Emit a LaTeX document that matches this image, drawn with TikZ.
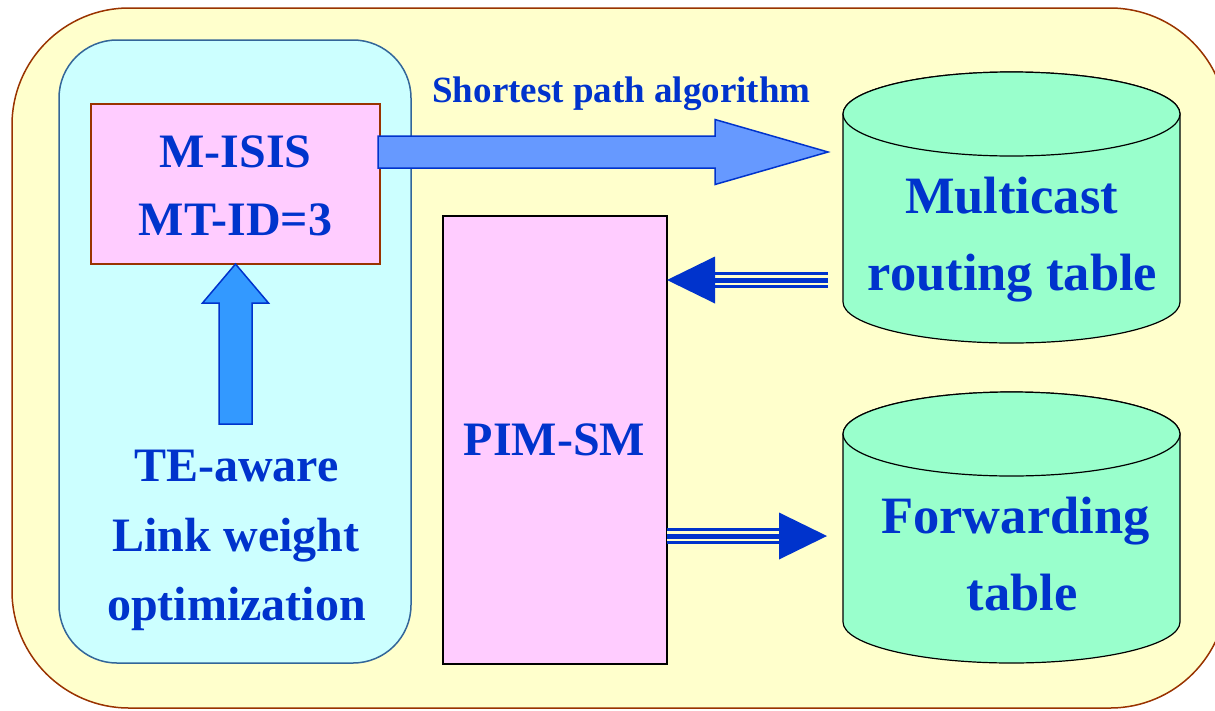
\documentclass[tikz,border=0pt]{standalone}
\usepackage{fontspec}
\setmainfont{Liberation Serif}
\usetikzlibrary{calc}

\definecolor{paneyellow}{HTML}{FFFFCC}
\definecolor{paneedge}{HTML}{993300}
\definecolor{cyanfill}{HTML}{CCFFFF}
\definecolor{cyanedge}{HTML}{336699}
\definecolor{pinkfill}{HTML}{FFCCFF}
\definecolor{tankfill}{HTML}{99FFCC}
\definecolor{inkblue}{HTML}{0033CC}
\definecolor{pathblue}{HTML}{6699FF}
\definecolor{liftblue}{HTML}{3399FF}

\tikzset{
  panel/.style={draw=paneedge, fill=paneyellow, line width=1.5pt,
    rounded corners=117pt, inner sep=0pt, outer sep=0pt},
  tepanel/.style={draw=cyanedge, fill=cyanfill, line width=1.5pt,
    rounded corners=58pt, inner sep=0pt, outer sep=0pt},
  protobox/.style={fill=pinkfill, line width=1.5pt, inner sep=0pt, outer sep=0pt},
  tankframe/.style={inner sep=0pt, outer sep=0pt},
  tank/.style={draw=black, fill=tankfill, line width=1.2pt},
  fatarrow/.style={draw=inkblue, line width=1.5pt, line join=miter},
  tripleline/.style={draw=inkblue, line width=15.5pt,
    postaction={draw=paneyellow, line width=10pt},
    postaction={draw=inkblue, line width=5pt}},
  headfill/.style={fill=inkblue},
  bigtxt/.style={text=inkblue, font=\bfseries\fontsize{48}{56}\selectfont,
    inner sep=0pt, anchor=base},
  tanktxt/.style={text=inkblue, font=\bfseries\fontsize{52.5}{60}\selectfont,
    inner sep=0pt, anchor=base},
  smalltxt/.style={text=inkblue, font=\bfseries\fontsize{37}{44}\selectfont,
    inner sep=0pt, anchor=base},
}

% cylinder drawn inside a named frame node
\newcommand\tankbody[1]{%
  \filldraw[tank] ($(#1.north west)+(0,-42)$) -- ($(#1.south west)+(0,41)$)
    arc[start angle=180, end angle=360, x radius=168.5, y radius=41]
    -- ($(#1.north east)+(0,-42)$)
    arc[start angle=0, end angle=180, x radius=168.5, y radius=42] -- cycle;
  \draw[tank] ($(#1.north)+(0,-42)$) ellipse[x radius=168.5, y radius=42];}

\begin{document}
\begin{tikzpicture}[x=1pt, y=1pt]
\useasboundingbox (0,-710) rectangle (1215,0);
\clip (0,-710) rectangle (1215,0);

% background panels
\node[panel, minimum width=1215, minimum height=700] (frame) at (619.5,-358) {};
\node[tepanel, minimum width=352, minimum height=623] (te) at (235,-351.5) {};

% protocol boxes
\node[protobox, draw=paneedge, minimum width=289, minimum height=160] (misis) at (235.5,-184) {};
\node[protobox, draw=black, minimum width=224, minimum height=448] (pim) at (555,-440) {};

% routing and forwarding tables
\node[tankframe, minimum width=337, minimum height=271] (mrt) at (1011.5,-207.5) {};
\node[tankframe, minimum width=337, minimum height=271] (fwd) at (1011.5,-527.5) {};
\tankbody{mrt}
\tankbody{fwd}

% shortest path arrow: M-ISIS -> multicast routing table
\coordinate (spTip) at (828,-152);
\coordinate (spTail) at (misis.east |- spTip);
\draw[fatarrow, fill=pathblue]
  ($(spTail)+(-2,16)$) -- ($(spTip)+(-113,16)$) -- ++(0,16.5) -- (spTip)
  -- ($(spTip)+(-113,-32.5)$) -- ++(0,16.5) -- ($(spTail)+(-2,-16)$) -- cycle;

% link weight arrow: optimisation -> M-ISIS
\coordinate (upTail) at (235.5,-424);
\draw[fatarrow, fill=liftblue]
  ($(upTail)+(-16.5,0)$) -- ($(misis.south)+(-16.5,-39)$) -- ++(-16.5,0)
  -- (misis.south) -- ($(misis.south)+(33,-39)$) -- ++(-16.5,0)
  -- ($(upTail)+(16.5,0)$) -- cycle;

% multicast routing table -> PIM-SM
\coordinate (mrtOut) at (828,-280);
\coordinate (pimIn) at (pim.east |- mrtOut);
\draw[tripleline] (mrtOut) -- ($(pimIn)+(48,0)$);
\fill[headfill] (pimIn) -- ($(pimIn)+(48,23.5)$) -- ($(pimIn)+(48,-23.5)$) -- cycle;

% PIM-SM -> forwarding table
\coordinate (fwdIn) at (827,-536);
\coordinate (pimOut) at (pim.east |- fwdIn);
\draw[tripleline] (pimOut) -- ($(fwdIn)+(-48,0)$);
\fill[headfill] (fwdIn) -- ($(fwdIn)+(-48,23.5)$) -- ($(fwdIn)+(-48,-23.5)$) -- cycle;

% labels
\node[bigtxt] (misisA) at (235.5,-167) {M-ISIS};
\node[bigtxt] (misisB) at (235.5,-235) {MT-ID=3};
\node[bigtxt] (teA) at (236.5,-481) {TE-aware};
\node[bigtxt] (teB) at (236,-551) {Link weight};
\node[bigtxt] (teC) at (236.5,-620) {optimization};
\node[bigtxt] (pimtxt) at (554.5,-455) {PIM-SM};
\node[smalltxt] (sptxt) at (621.5,-102) {Shortest path algorithm};
\node[tanktxt] (mrtA) at (1011.5,-213) {Multicast};
\node[tanktxt] (mrtB) at (1012.5,-290) {routing table};
\node[tanktxt] (fwdA) at (1015.5,-533) {Forwarding};
\node[tanktxt] (fwdB) at (1022,-610) {table};
\end{tikzpicture}
\end{document}
